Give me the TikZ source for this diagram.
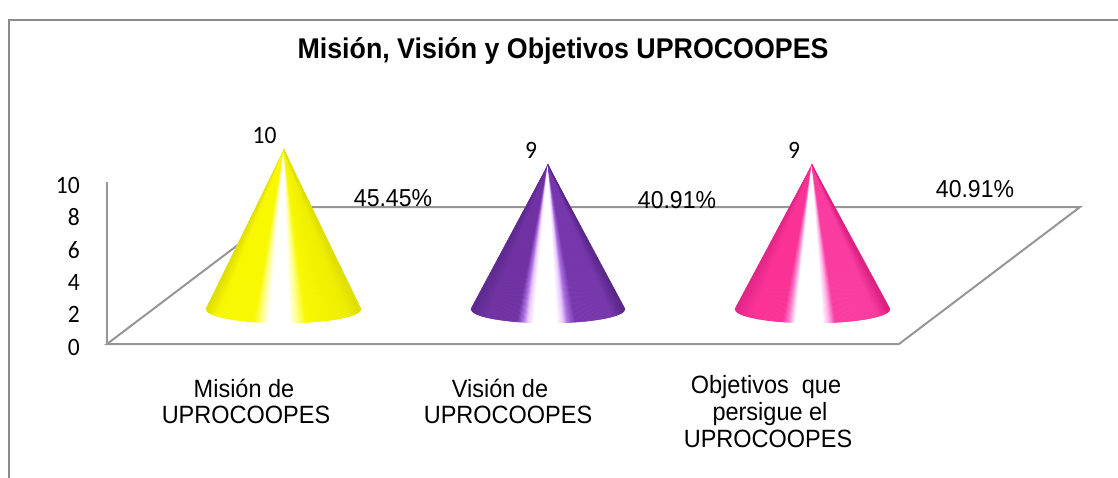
\documentclass[tikz,border=0pt]{standalone}
\usepackage{fontspec}
\setmainfont{Liberation Sans}[FakeStretch=0.94]
\newfontfamily\carlito{Carlito}[FakeStretch=0.94]
\definecolor{frameg}{RGB}{140,140,140}
\definecolor{axisg}{RGB}{150,150,150}
\definecolor{yA}{RGB}{222,222,0}
\definecolor{yB}{RGB}{248,248,0}
\definecolor{yC}{RGB}{255,255,140}
\definecolor{yD}{RGB}{238,238,0}
\definecolor{yE}{RGB}{222,222,0}
\definecolor{pA}{RGB}{92,40,142}
\definecolor{pB}{RGB}{112,50,162}
\definecolor{pC}{RGB}{170,110,225}
\definecolor{pD}{RGB}{235,200,255}
\definecolor{pE}{RGB}{118,55,172}
\definecolor{pF}{RGB}{88,38,136}
\definecolor{kA}{RGB}{225,35,135}
\definecolor{kB}{RGB}{250,50,150}
\definecolor{kC}{RGB}{255,130,205}
\definecolor{kD}{RGB}{255,175,232}
\definecolor{kE}{RGB}{250,60,160}
\definecolor{kF}{RGB}{218,30,128}
\tikzset{
  gridline/.style={draw=axisg, line width=2pt},
  ylab/.style={anchor=east, inner sep=0pt, font=\carlito\fontsize{25}{29}\selectfont},
  vallab/.style={anchor=base, inner sep=0pt, font=\carlito\fontsize{25}{29}\selectfont},
  pctlab/.style={anchor=base, inner sep=0pt, font=\fontsize{24.5}{28}\selectfont},
  catlab/.style={anchor=base, inner sep=0pt, font=\fontsize{25}{28}\selectfont},
}
% cone drawn as thin wedges from the apex: #1,#2 apex; #3,#4 base centre; #5,#6 radii; #7 colour stops u/colour
\newcommand\conewedges[7]{%
  \foreach \ust/\ucol [remember=\ust as \pst (initially 0), remember=\ucol as \pcol (initially white)] in {#7} {%
    \pgfmathtruncatemacro\nsub{max(1,round((\ust-\pst)*130))}%
    \foreach \kk in {1,...,\nsub} {%
      \pgfmathsetmacro\ua{\pst+(\ust-\pst)*(\kk-1)/\nsub}%
      \pgfmathsetmacro\ub{\pst+(\ust-\pst)*\kk/\nsub}%
      \pgfmathsetmacro\ff{100*(\kk-0.5)/\nsub}%
      \pgfmathsetmacro\xa{#3-#5+2*#5*\ua}%
      \pgfmathsetmacro\xb{#3-#5+2*#5*\ub}%
      \pgfmathsetmacro\ya{#4+#6*sqrt(max(0,1-(2*\ua-1)^2))}%
      \pgfmathsetmacro\yb{#4+#6*sqrt(max(0,1-(2*\ub-1)^2))}%
      \filldraw[fill=\ucol!\ff!\pcol, draw=\ucol!\ff!\pcol, line width=0.5pt, line join=round] (#1,#2) -- (\xa,\ya) -- (\xb,\yb) -- cycle;
    }%
  }%
}
\begin{document}
\begin{tikzpicture}[x=1pt,y=-1pt]
\useasboundingbox (0,0) rectangle (1118,477);
% outer frame
\draw[frameg, line width=2pt] (9,480) -- (9,20) -- (1120,20);
% title
\node[anchor=base, inner sep=0pt, font=\bfseries\fontsize{28.5}{32}\selectfont] (title) at (563,58) {Misión, Visión y Objetivos UPROCOOPES};
% floor and axis
\coordinate (fl) at (107,344);
\coordinate (fr) at (899,344);
\coordinate (bl) at (288,207);
\coordinate (br) at (1080,207);
\coordinate (at) at (107,182);
\draw[gridline] (bl) -- (br) -- (fr) -- (fl) -- cycle;
\draw[gridline] (fl) -- (at);
% y labels
\node[ylab] (y10) at (80,185) {10};
\node[ylab] (y8) at (80,217) {8};
\node[ylab] (y6) at (80,250) {6};
\node[ylab] (y4) at (80,282) {4};
\node[ylab] (y2) at (80,314) {2};
\node[ylab] (y0) at (80,347) {0};
% cones
\conewedges{284}{150}{283.5}{309}{77.5}{14}{0/yA,0.08/yB,0.31/yB,0.36/yC,0.41/white,0.54/white,0.59/yC,0.65/yB,0.92/yD,1/yE}
\conewedges{548}{165}{548}{309}{77}{14}{0/pA,0.1/pB,0.30/pB,0.34/pC,0.37/pD,0.41/white,0.56/white,0.60/pD,0.63/pC,0.68/pE,0.92/pE,1/pF}
\conewedges{812}{165}{812.5}{309}{77.5}{14}{0/kA,0.1/kB,0.31/kB,0.35/kC,0.39/white,0.57/white,0.61/kD,0.65/kE,0.92/kE,1/kF}
% value labels
\node[vallab] (v1) at (264.5,143) {10};
\node[vallab] (v2) at (531,158) {9};
\node[vallab] (v3) at (794,158) {9};
% percent labels
\node[pctlab] (p1) at (393,206) {45.45\%};
\node[pctlab] (p2) at (677,208) {40.91\%};
\node[pctlab] (p3) at (975,197) {40.91\%};
% category labels
\node[catlab] (c1a) at (244,397) {Misión de};
\node[catlab] (c1b) at (246,423) {UPROCOOPES};
\node[catlab] (c2a) at (500,397) {Visión de};
\node[catlab] (c2b) at (508,423) {UPROCOOPES};
\node[catlab] (c3a) at (766,393) {Objetivos\ \ que};
\node[catlab] (c3b) at (770,420) {persigue el};
\node[catlab] (c3c) at (768,447) {UPROCOOPES};
\end{tikzpicture}
\end{document}
